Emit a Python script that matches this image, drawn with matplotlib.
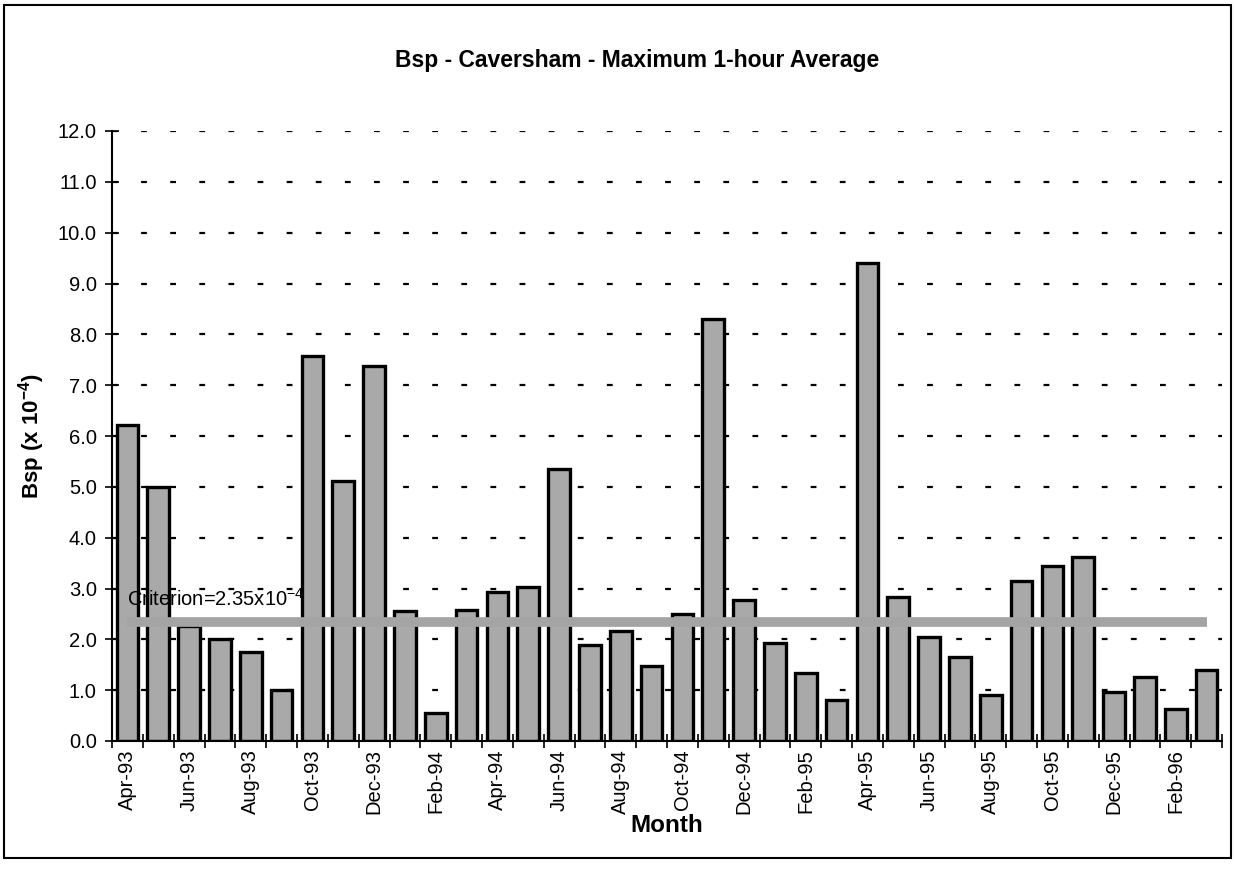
import matplotlib
matplotlib.use("Agg")
import matplotlib.pyplot as plt
from matplotlib.patches import Rectangle

plt.rcParams['font.family'] = ['Liberation Sans', 'DejaVu Sans']
plt.rcParams['mathtext.fontset'] = 'custom'
plt.rcParams['mathtext.rm'] = 'Liberation Sans'
plt.rcParams['mathtext.bf'] = 'Liberation Sans:bold'
plt.rcParams['mathtext.it'] = 'Liberation Sans:italic'

months = ["Apr-93", "May-93", "Jun-93", "Jul-93", "Aug-93", "Sep-93",
          "Oct-93", "Nov-93", "Dec-93", "Jan-94", "Feb-94", "Mar-94",
          "Apr-94", "May-94", "Jun-94", "Jul-94", "Aug-94", "Sep-94",
          "Oct-94", "Nov-94", "Dec-94", "Jan-95", "Feb-95", "Mar-95",
          "Apr-95", "May-95", "Jun-95", "Jul-95", "Aug-95", "Sep-95",
          "Oct-95", "Nov-95", "Dec-95", "Jan-96", "Feb-96", "Mar-96"]
bsp = [6.22, 5.00, 2.27, 2.00, 1.75, 1.00,
       7.58, 5.12, 7.37, 2.55, 0.56, 2.57,
       2.93, 3.02, 5.35, 1.88, 2.17, 1.48,
       2.50, 8.30, 2.78, 1.92, 1.33, 0.80,
       9.40, 2.84, 2.05, 1.65, 0.90, 3.15,
       3.45, 3.62, 0.96, 1.26, 0.62, 1.40]
criterion = 2.35
yticks = [0, 1, 2, 3, 4, 5, 6, 7, 8, 9, 10, 11, 12]

W, H = 1235, 874
fig = plt.figure(figsize=(W / 100, H / 100), dpi=100)
ax = fig.add_axes([112 / W, 1 - 741 / H, (1222 - 112) / W, (741 - 131) / H])

x = list(range(len(months)))
ax.bar(x, bsp, width=0.7, color='#a9a9a9', edgecolor='black', linewidth=2.4, zorder=2)

# criterion line
ax.plot([x[0], x[-1]], [criterion, criterion], color='#a4a4a4', linewidth=7.0,
        solid_capstyle='butt', zorder=3)
ax.text(0.0, 2.8, r'Criterion=2.35x10$^{-4}$', fontsize=14.5, ha='left', va='center',
        zorder=4)

ax.set_xlim(-0.5, len(months) - 0.5)
ax.set_ylim(0, 12)
ax.set_yticks(yticks)
ax.set_yticklabels([f"{v:.1f}" for v in yticks], fontsize=14.5)
for v in yticks[1:]:
    ax.axhline(v, color='black', linewidth=1.6, linestyle=(0, (2.6, 10.5)), zorder=1)

# x ticks: marks at boundaries, labels every other month
ax.set_xticks([i - 0.5 for i in range(len(months) + 1)])
ax.set_xticklabels([])
ax.set_xticks(x[::2], minor=True)
ax.set_xticklabels(months[::2], minor=True, rotation=90, fontsize=14.5)
ax.tick_params(axis='x', which='minor', length=0, pad=6)
ax.tick_params(axis='x', which='major', direction='inout', length=10, width=1.2)
ax.tick_params(axis='y', direction='inout', length=10, width=1.2, pad=6)

for s in ['top', 'right']:
    ax.spines[s].set_visible(False)
for s in ['left', 'bottom']:
    ax.spines[s].set_linewidth(1.5)

ax.set_xlabel('Month', fontsize=17.5, fontweight='bold', labelpad=0)
ax.set_ylabel(r'Bsp (x 10$^{\mathbf{-4}}$)', fontsize=16, fontweight='bold', labelpad=8)

fig.text(637 / W, 1 - 60 / H, 'Bsp - Caversham - Maximum 1-hour Average',
         fontsize=16.5, fontweight='bold', ha='center', va='center')

fig.patches.append(Rectangle((4 / W, 1 - 858 / H), (1231 - 4) / W, (858 - 5) / H,
                             transform=fig.transFigure, fill=False,
                             edgecolor='black', linewidth=1.5))

fig.savefig('out.png', dpi=100)
